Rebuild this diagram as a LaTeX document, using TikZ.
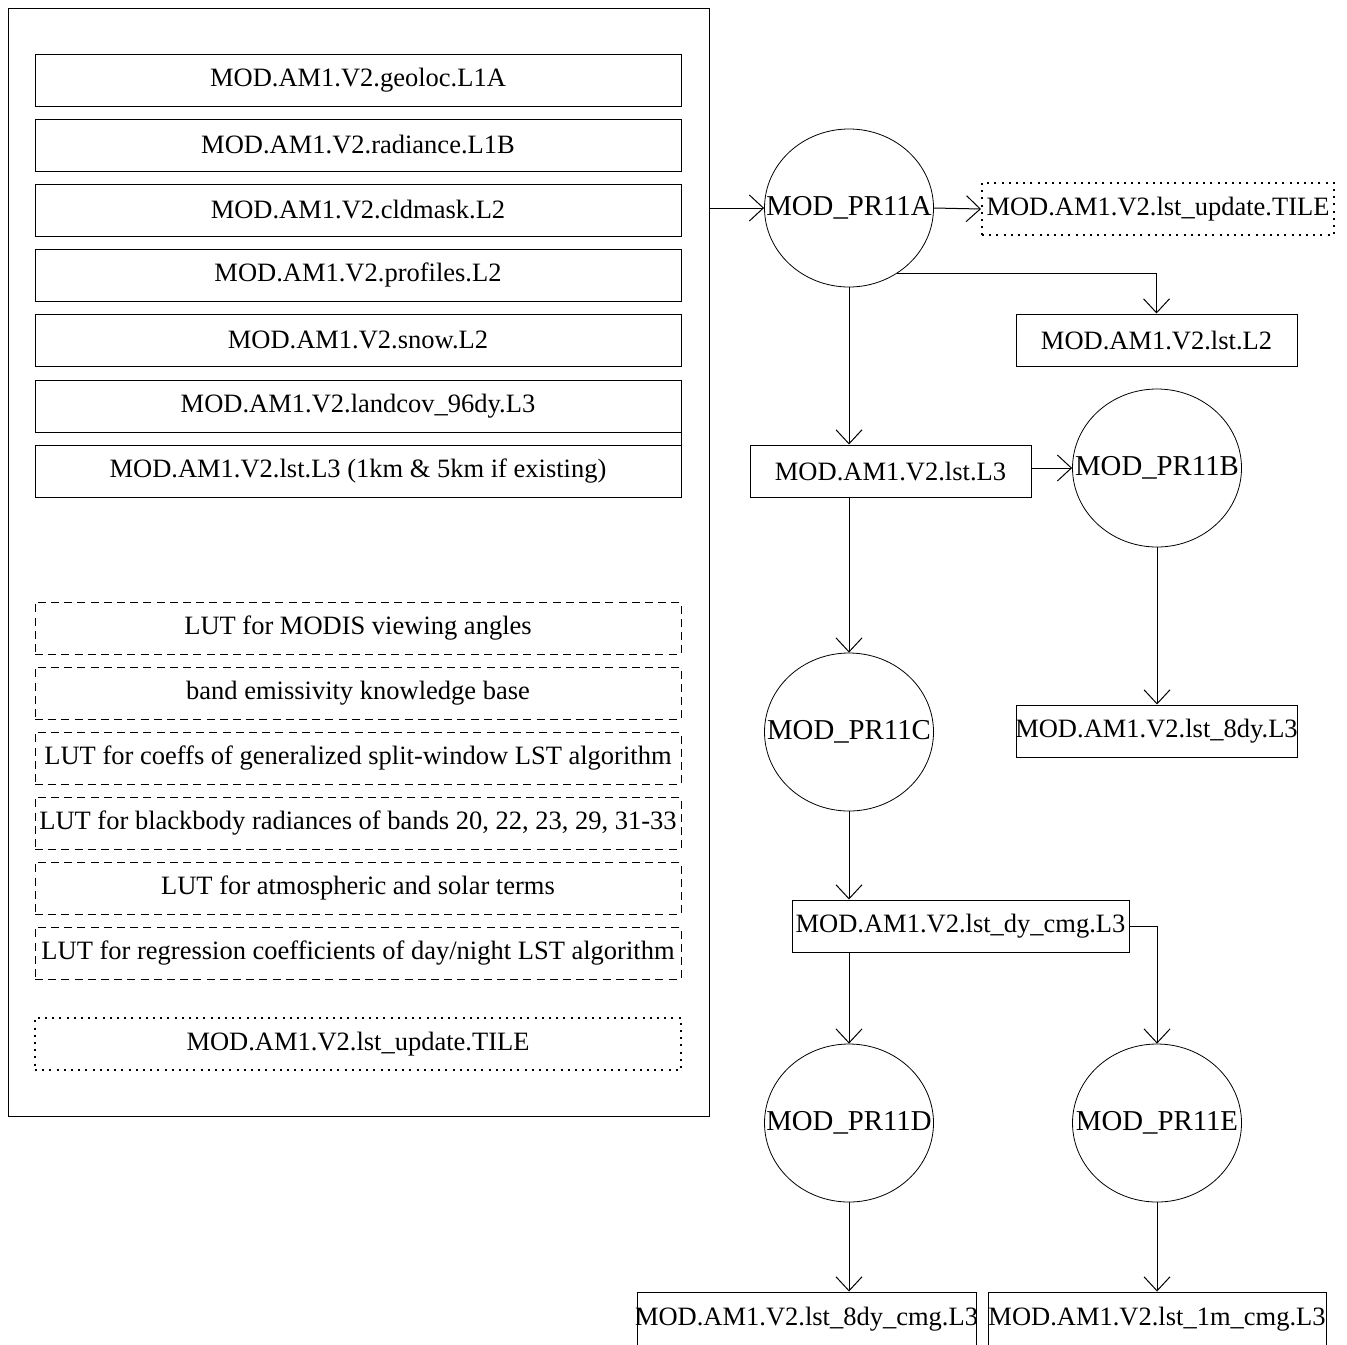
\documentclass[tikz,border=0pt]{standalone}
\usepackage{fontspec}
\setmainfont{Liberation Serif}
\usetikzlibrary{arrows.meta,shapes.geometric}
\tikzset{% styles for the file boxes, processes and flows
    overflow/.style={execute at begin node={\hbox to 0pt\bgroup\hss}, execute at end node={\hss\egroup}},
    file/.style={rectangle, draw=black, line width=0.5pt, inner sep=0pt, minimum height=26pt, overflow},
    lut/.style={file, dash pattern=on 4pt off 2.6pt},
    tile/.style={file, line width=1pt, dash pattern=on 1pt off 2.6pt},
    proc/.style={ellipse, draw=black, line width=0.4pt, inner sep=0pt, minimum width=84.5pt, minimum height=79pt, overflow, font=\fontsize{14.4}{16}\selectfont},
    e/.style={-{Straight Barb[length=7pt, width=13pt]}, line width=0.5pt}}

\begin{document}
\begin{tikzpicture}[x=0.5pt, y=-0.5pt, font=\fontsize{13.25}{15}\selectfont]
    \useasboundingbox (0,0) rectangle (1347,1344);
    \fill[white] (0,0) rectangle (1347,1344);

    % input group
    \node[draw, line width=0.5pt, inner sep=0pt, minimum width=350.5pt, minimum height=554pt] (inputs) at (358.5,562) {};
    \node[file, minimum width=323pt] (geoloc) at (358,80) {MOD.AM1.V2.geoloc.L1A};
    \node[file, minimum width=323pt] (radiance) at (358,145) {MOD.AM1.V2.radiance.L1B};
    \node[file, minimum width=323pt] (cldmask) at (358,210) {MOD.AM1.V2.cldmask.L2};
    \node[file, minimum width=323pt] (profiles) at (358,275) {MOD.AM1.V2.profiles.L2};
    \node[file, minimum width=323pt] (snow) at (358,340) {MOD.AM1.V2.snow.L2};
    \node[file, minimum width=323pt] (landcov) at (358,406) {MOD.AM1.V2.landcov\_96dy.L3};
    \node[file, minimum width=323pt] (lstin) at (358,471) {MOD.AM1.V2.lst.L3 (1km \& 5km if existing)};
    \draw[line width=0.5pt] (landcov.south east) -- (lstin.north east);

    \node[lut, minimum width=323pt] (lutview) at (358,628) {LUT for MODIS viewing angles};
    \node[lut, minimum width=323pt] (emis) at (358,693) {band emissivity knowledge base};
    \node[lut, minimum width=323pt] (lutsw) at (358,758) {LUT for coeffs of generalized split-window LST algorithm};
    \node[lut, minimum width=323pt] (lutbb) at (358,823) {LUT for blackbody radiances of bands 20, 22, 23, 29, 31-33};
    \node[lut, minimum width=323pt] (lutatm) at (358,888) {LUT for atmospheric and solar terms};
    \node[lut, minimum width=323pt] (lutdn) at (358,953) {LUT for regression coefficients of day/night LST algorithm};
    \node[tile, minimum width=323pt] (tilein) at (358,1044) {MOD.AM1.V2.lst\_update.TILE};

    % processes
    \node[proc] (PR11A) at (849,208) {MOD\_PR11A};
    \node[proc] (PR11B) at (1157,468) {MOD\_PR11B};
    \node[proc] (PR11C) at (849,732) {MOD\_PR11C};
    \node[proc] (PR11D) at (849,1123) {MOD\_PR11D};
    \node[proc] (PR11E) at (1157,1123) {MOD\_PR11E};

    % products
    \node[tile, minimum width=176pt] (tileout) at (1158,209) {MOD.AM1.V2.lst\_update.TILE};
    \node[file, minimum width=140.5pt] (lstL2) at (1156.5,340) {MOD.AM1.V2.lst.L2};
    \node[file, minimum width=140.5pt] (lstL3) at (890.5,471) {MOD.AM1.V2.lst.L3};
    \node[file, minimum width=140.5pt] (lst8dy) at (1156.5,731) {MOD.AM1.V2.lst\_8dy.L3};
    \node[file, minimum width=168.5pt] (dycmg) at (960.5,926) {MOD.AM1.V2.lst\_dy\_cmg.L3};
    \node[file, minimum width=169.5pt, minimum height=27pt] (cmg8dy) at (806.5,1319) {MOD.AM1.V2.lst\_8dy\_cmg.L3};
    \node[file, minimum width=169pt, minimum height=27pt] (cmg1m) at (1157,1319) {MOD.AM1.V2.lst\_1m\_cmg.L3};

    \draw[e] (inputs.east |- PR11A) -- (PR11A.west);
    \draw[e] (PR11A.east) -- (tileout.west);
    \draw[e] (PR11A.-54) -| (lstL2.north);
    \draw[e] (PR11A.south) -- (PR11A.south |- lstL3.north);
    \draw[e] (lstL3.east |- PR11B) -- (PR11B.west);
    \draw[e] (PR11B.south) -- (PR11B.south |- lst8dy.north);
    \draw[e] (PR11A.south |- lstL3.south) -- (PR11C.north);
    \draw[e] (PR11C.south) -- (PR11C.south |- dycmg.north);
    \draw[e] (PR11C.south |- dycmg.south) -- (PR11D.north);
    \draw[e] (dycmg.east) -| (PR11E.north);
    \draw[e] (PR11D.south) -- (PR11D.south |- cmg8dy.north);
    \draw[e] (PR11E.south) -- (PR11E.south |- cmg1m.north);
  \end{tikzpicture}
\end{document}
